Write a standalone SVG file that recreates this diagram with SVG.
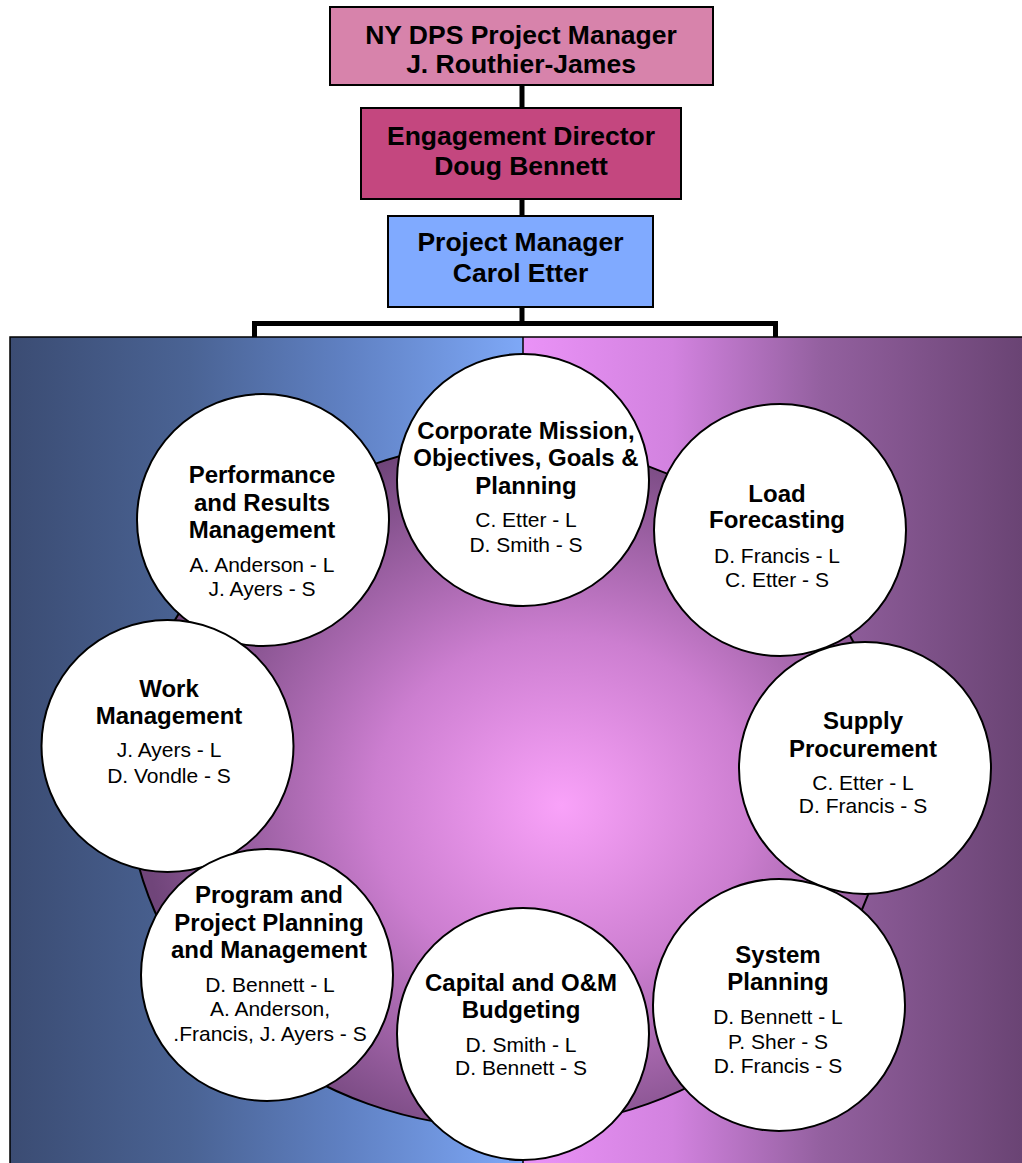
<svg xmlns="http://www.w3.org/2000/svg" width="1022" height="1163" viewBox="0 0 1022 1163">
  <defs>
    <linearGradient id="gradBlue" x1="10" y1="0" x2="523" y2="0" gradientUnits="userSpaceOnUse">
      <stop offset="0" stop-color="#3b4c73"/>
      <stop offset="0.35" stop-color="#4a6394"/>
      <stop offset="0.65" stop-color="#5f80c2"/>
      <stop offset="1" stop-color="#7ea8f7"/>
    </linearGradient>
    <linearGradient id="gradPurple" x1="523" y1="0" x2="1022" y2="0" gradientUnits="userSpaceOnUse">
      <stop offset="0" stop-color="#ea92f7"/>
      <stop offset="0.3" stop-color="#d282df"/>
      <stop offset="0.6" stop-color="#93609f"/>
      <stop offset="1" stop-color="#6a4474"/>
    </linearGradient>
    <radialGradient id="gradHub" cx="0.57" cy="0.53" r="0.55">
      <stop offset="0" stop-color="#f9a2f9"/>
      <stop offset="0.45" stop-color="#cc7ed0"/>
      <stop offset="1" stop-color="#70457a"/>
    </radialGradient>
    <style>
      .box { stroke: #000; stroke-width: 2; }
      .boxText { font-family: "Liberation Sans", Arial, sans-serif; font-weight: bold; font-size: 26.5px; fill: #000; text-anchor: middle; }
      .bubble { fill: #fff; stroke: #000; stroke-width: 2; }
      .title { font-family: "Liberation Sans", Arial, sans-serif; font-weight: bold; font-size: 24px; fill: #000; text-anchor: middle; }
      .names { font-family: "Liberation Sans", Arial, sans-serif; font-size: 21px; fill: #000; text-anchor: middle; }
      .link { fill: none; stroke: #000; stroke-width: 5; stroke-linejoin: miter; }
    </style>
  </defs>

  <!-- background panel split into two gradient halves -->
  <g id="panel">
    <rect x="10" y="337" width="513" height="830" fill="url(#gradBlue)"/>
    <rect x="523" y="337" width="503" height="830" fill="url(#gradPurple)"/>
    <rect x="10" y="337" width="1016" height="830" fill="none" stroke="#000" stroke-width="1.5"/>
    <line x1="523" y1="337" x2="523" y2="1163" stroke="#000" stroke-width="1.5"/>
  </g>

  <!-- central hub -->
  <g id="hub">
    <ellipse cx="508" cy="785" rx="380" ry="343" fill="url(#gradHub)" stroke="#000" stroke-width="2"/>
  </g>

  <!-- connectors -->
  <g id="connectors">
    <line class="link" x1="522" y1="85" x2="522" y2="108"/>
    <line class="link" x1="522" y1="199" x2="522" y2="216"/>
    <line class="link" x1="522" y1="307" x2="522" y2="323.5"/>
    <path class="link" d="M254.5,337 V323.5 H775.5 V337"/>
  </g>

  <!-- management chain -->
  <g id="nyDpsManager">
    <rect class="box" x="330" y="7" width="383" height="78" fill="#d783ab"/>
    <text class="boxText" x="521" y="44">NY DPS Project Manager</text>
    <text class="boxText" x="521" y="73">J. Routhier-James</text>
  </g>
  <g id="engagementDirector">
    <rect class="box" x="361" y="108" width="320" height="91" fill="#c4477f"/>
    <text class="boxText" x="521" y="145">Engagement Director</text>
    <text class="boxText" x="521" y="175">Doug Bennett</text>
  </g>
  <g id="projectManager">
    <rect class="box" x="388" y="216" width="265" height="91" fill="#80aaff"/>
    <text class="boxText" x="520.5" y="251">Project Manager</text>
    <text class="boxText" x="520.5" y="282">Carol Etter</text>
  </g>

  <!-- process areas around the hub -->
  <g id="corporateMission">
    <circle class="bubble" cx="523" cy="480" r="126"/>
    <text class="title" x="526" y="439">Corporate Mission,</text>
    <text class="title" x="526" y="466">Objectives, Goals &amp;</text>
    <text class="title" x="526" y="494">Planning</text>
    <text class="names" x="526" y="527">C. Etter - L</text>
    <text class="names" x="526" y="552">D. Smith - S</text>
  </g>
  <g id="performanceResults">
    <circle class="bubble" cx="263" cy="520" r="126"/>
    <text class="title" x="262" y="483">Performance</text>
    <text class="title" x="262" y="511">and Results</text>
    <text class="title" x="262" y="538">Management</text>
    <text class="names" x="262" y="572">A. Anderson - L</text>
    <text class="names" x="262" y="596">J. Ayers - S</text>
  </g>
  <g id="loadForecasting">
    <circle class="bubble" cx="780" cy="530" r="126"/>
    <text class="title" x="777" y="502">Load</text>
    <text class="title" x="777" y="528">Forecasting</text>
    <text class="names" x="777" y="563">D. Francis - L</text>
    <text class="names" x="777" y="587">C. Etter - S</text>
  </g>
  <g id="workManagement">
    <circle class="bubble" cx="167.5" cy="746" r="126"/>
    <text class="title" x="169" y="697">Work</text>
    <text class="title" x="169" y="724">Management</text>
    <text class="names" x="169" y="757">J. Ayers - L</text>
    <text class="names" x="169" y="783">D. Vondle - S</text>
  </g>
  <g id="supplyProcurement">
    <circle class="bubble" cx="865" cy="768" r="126"/>
    <text class="title" x="863" y="729">Supply</text>
    <text class="title" x="863" y="757">Procurement</text>
    <text class="names" x="863" y="790">C. Etter - L</text>
    <text class="names" x="863" y="813">D. Francis - S</text>
  </g>
  <g id="programProject">
    <circle class="bubble" cx="267" cy="975" r="126"/>
    <text class="title" x="269" y="903">Program and</text>
    <text class="title" x="269" y="931">Project Planning</text>
    <text class="title" x="269" y="958">and Management</text>
    <text class="names" x="270" y="992">D. Bennett - L</text>
    <text class="names" x="270" y="1016">A. Anderson,</text>
    <text class="names" x="270" y="1041">.Francis, J. Ayers - S</text>
  </g>
  <g id="capitalBudgeting">
    <circle class="bubble" cx="523" cy="1034" r="126"/>
    <text class="title" x="521" y="991">Capital and O&amp;M</text>
    <text class="title" x="521" y="1018">Budgeting</text>
    <text class="names" x="521" y="1052">D. Smith - L</text>
    <text class="names" x="521" y="1075">D. Bennett - S</text>
  </g>
  <g id="systemPlanning">
    <circle class="bubble" cx="779" cy="1005" r="126"/>
    <text class="title" x="778" y="963">System</text>
    <text class="title" x="778" y="990">Planning</text>
    <text class="names" x="778" y="1024">D. Bennett - L</text>
    <text class="names" x="778" y="1049">P. Sher - S</text>
    <text class="names" x="778" y="1073">D. Francis - S</text>
  </g>
</svg>
